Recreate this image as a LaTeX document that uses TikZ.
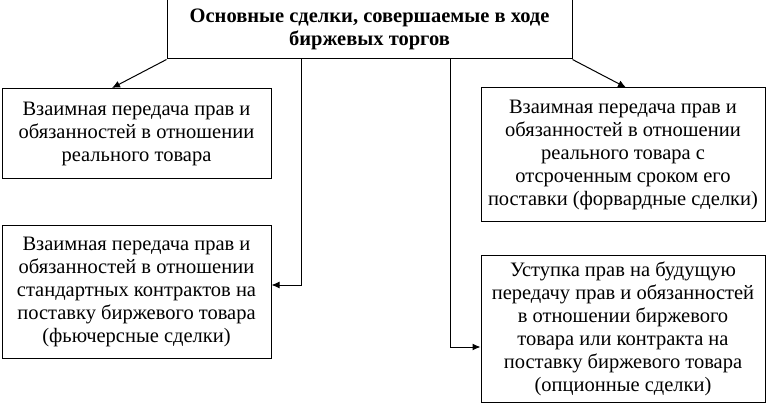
\documentclass[tikz,border=0pt]{standalone}
\usepackage{fontspec}
\setmainfont{Liberation Serif}
\usetikzlibrary{arrows.meta}

\begin{document}
\begin{tikzpicture}[x=1pt,y=1pt]
\useasboundingbox (0,0) rectangle (766,-404);
\begin{scope}[every node/.style={draw,line width=1pt,align=center,inner sep=0pt,
  font=\fontsize{20.5}{23}\selectfont}]
\node[minimum width=405,minimum height=59,font=\fontsize{20.5}{23}\selectfont\bfseries] (deals) at (369.5,-29.5) {Основные сделки, совершаемые в ходе\\биржевых торгов};
\node[minimum width=269,minimum height=90] (spot) at (136.5,-133.5) {Взаимная передача прав и\\обязанностей в отношении\\реального товара};
\node[minimum width=284,minimum height=133] (forward) at (623,-154.5) {Взаимная передача прав и\\обязанностей в отношении\\реального товара с\\отсроченным сроком его\\поставки (форвардные сделки)};
\node[minimum width=269,minimum height=133] (futures) at (136.5,-292) {Взаимная передача прав и\\обязанностей в отношении\\стандартных контрактов на\\поставку биржевого товара\\(фьючерсные сделки)};
\node[minimum width=284,minimum height=147] (options) at (623,-328.5) {Уступка прав на будущую\\передачу прав и обязанностей\\в отношении биржевого\\товара или контракта на\\поставку биржевого товара\\(опционные сделки)};
\end{scope}

\begin{scope}[>={Latex[length=8pt,width=7pt]},line width=1pt]
\draw[->] (deals.south west) -- ([xshift=-24.5pt]spot.north);
\draw[->] (deals.south east) -- ([xshift=3pt]forward.north);
\draw[->] (deals.south -| 301,0) |- ([yshift=7pt]futures.east);
\draw[->] (deals.south -| 450,0) |- ([yshift=-18.5pt]options.west);
\end{scope}
\end{tikzpicture}
\end{document}
